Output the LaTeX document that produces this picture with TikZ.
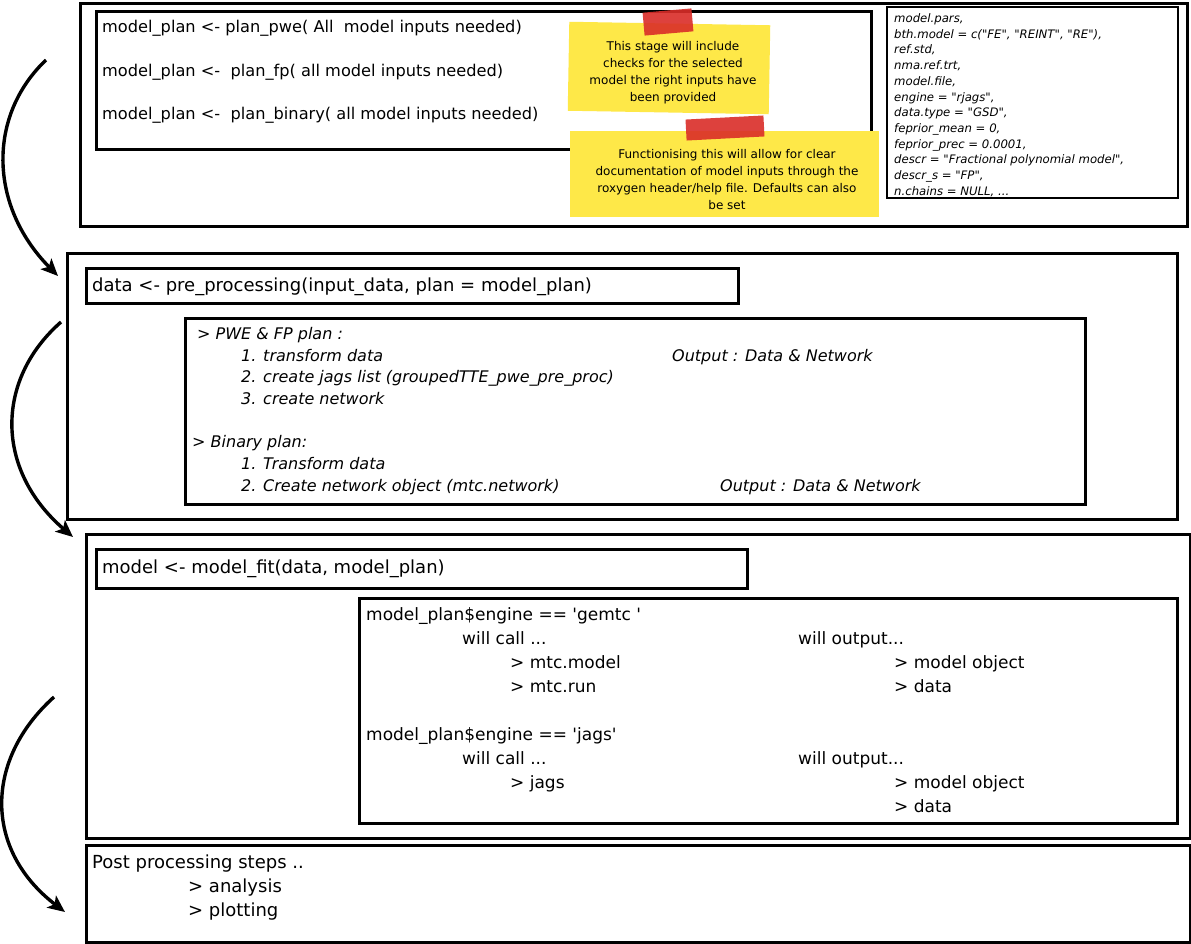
\documentclass[tikz,border=0pt]{standalone}
\usepackage{fontspec}
\setmainfont{DejaVu Sans}[Ligatures=TeXOff]
\usepackage{xcolor}
\usepackage{tikz}
\usetikzlibrary{positioning, arrows.meta}
\definecolor{noteyellow}{RGB}{254, 232, 72}
\definecolor{tapered}{RGB}{218, 45, 40}

\begin{document}
\begin{tikzpicture}[x=1pt, y=-1pt,
        stagebox/.style={draw=black, line width=3pt, fill=white, anchor=north west, inner sep=0pt},
        innerbox/.style={draw=black, line width=2.6pt, fill=white, anchor=north west, inner sep=0pt},
        codeline/.style={anchor=west, inner sep=0pt, yshift=-4.5pt, text height=.7em, text depth=.2em, font=\fontsize{18}{21}\selectfont},
        planline/.style={codeline, font=\fontsize{16.2}{19}\selectfont},
        stepline/.style={codeline, font=\fontsize{16}{19}\selectfont\itshape},
        engineline/.style={codeline, font=\fontsize{17}{20}\selectfont},
        parline/.style={codeline, yshift=1.5pt, font=\fontsize{11.7}{14}\selectfont\itshape},
        sticky/.style={fill=noteyellow, inner sep=0pt},
        notetext/.style={inner sep=0pt, align=center, font=\fontsize{12}{17}\selectfont},
        tape/.style={fill=tapered, opacity=.9, inner sep=0pt},
        flow/.style={-{Stealth[length=17pt, width=15pt, inset=4pt]}, line width=3.4pt}]

    \useasboundingbox (0,0) rectangle (1191,943);

    % stage 1 : model plan
    \node[stagebox, minimum width=1107pt, minimum height=223pt] (stageplan) at (79,2) {};
    \node[innerbox, minimum width=775pt, minimum height=138pt] (planbox) at (95,10) {};
    \node[planline] (planpwe) at (102,25) {model\_plan <- plan\_pwe( All\ \ model inputs needed)};
    \node[planline] (planfp) at (102,69) {model\_plan <-\ \ plan\_fp( all model inputs needed)};
    \node[planline] (planbin) at (102,112) {model\_plan <-\ \ plan\_binary( all model inputs needed)};

    \node[innerbox, line width=2.4pt, minimum width=291pt, minimum height=191pt] (parbox) at (886,6) {};
    \node[parline] (par1) at (894,17) {model.pars,};
    \node[parline] (par2) at (894,32.7) {bth.model = c("FE", "REINT", "RE"),};
    \node[parline] (par3) at (894,48.4) {ref.std,};
    \node[parline] (par4) at (894,64.1) {nma.ref.trt,};
    \node[parline] (par5) at (894,79.8) {model.file,};
    \node[parline] (par6) at (894,95.5) {engine = "rjags",};
    \node[parline] (par7) at (894,111.2) {data.type = "GSD",};
    \node[parline] (par8) at (894,126.9) {feprior\_mean = 0,};
    \node[parline] (par9) at (894,142.6) {feprior\_prec = 0.0001,};
    \node[parline] (par10) at (894,158.3) {descr = "Fractional polynomial model",};
    \node[parline] (par11) at (894,174) {descr\_s = "FP",};
    \node[parline] (par12) at (894,189.7) {n.chains = NULL, ...};

    \node[sticky, minimum width=201pt, minimum height=89pt, rotate=-1] (checknote) at (669,68) {};
    \node[notetext] (checktext) at (673,73) {This stage will include\\ checks for the selected\\ model the right inputs have\\ been provided};
    \node[tape, minimum width=49pt, minimum height=23pt, rotate=5] (checktape) at (668,22) {};
    \node[sticky, minimum width=309pt, minimum height=86pt] (docnote) at (724,174) {};
    \node[notetext] (doctext) at (727,179.5) {Functionising this will allow for clear\\ documentation of model inputs through the\\ roxygen header/help file. Defaults can also\\ be set};
    \node[tape, minimum width=78pt, minimum height=21pt, rotate=3] (doctape) at (725,128) {};

    % stage 2 : pre processing
    \node[stagebox, minimum width=1110pt, minimum height=266pt] (stageprep) at (66,252) {};
    \node[innerbox, minimum width=652pt, minimum height=35pt] (prepcall) at (85,267) {};
    \node[codeline] (prepcode) at (92,284) {data <- pre\_processing(input\_data, plan = model\_plan)};
    \node[innerbox, minimum width=900pt, minimum height=186pt] (prepbox) at (184,317) {};
    \node[stepline] (pwehead) at (197,332) {> PWE \& FP plan :};
    \node[stepline] (pwestep1) at (241,354) {1. transform data};
    \node[stepline] (pwestep2) at (241,375) {2. create jags list (groupedTTE\_pwe\_pre\_proc)};
    \node[stepline] (pwestep3) at (241,397) {3. create network};
    \node[stepline] (pweout) at (672,354) {Output : Data \& Network};
    \node[stepline] (binhead) at (192,440) {> Binary plan:};
    \node[stepline] (binstep1) at (241,462) {1. Transform data};
    \node[stepline] (binstep2) at (241,484) {2. Create network object (mtc.network)};
    \node[stepline] (binout) at (720,484) {Output : Data \& Network};

    % stage 3 : model fit
    \node[stagebox, minimum width=1104pt, minimum height=304pt] (stagefit) at (85,533) {};
    \node[innerbox, minimum width=651pt, minimum height=39pt] (fitcall) at (95,548) {};
    \node[codeline] (fitcode) at (102,566) {model <- model\_fit(data, model\_plan)};
    \node[innerbox, minimum width=818pt, minimum height=225pt] (enginebox) at (358,597) {};
    \node[engineline] (gemtchead) at (366,613) {model\_plan\$engine == 'gemtc '};
    \node[engineline] (gemtccall) at (462,637) {will call ...};
    \node[engineline] (gemtcmodel) at (510,661) {> mtc.model};
    \node[engineline] (gemtcrun) at (510,685) {> mtc.run};
    \node[engineline] (gemtcout) at (798,637) {will output...};
    \node[engineline] (gemtcobj) at (894,661) {> model object};
    \node[engineline] (gemtcdata) at (894,685) {> data};
    \node[engineline] (jagshead) at (366,733) {model\_plan\$engine == 'jags'};
    \node[engineline] (jagscall) at (462,757) {will call ...};
    \node[engineline] (jagsrun) at (510,781) {> jags};
    \node[engineline] (jagsout) at (798,757) {will output...};
    \node[engineline] (jagsobj) at (894,781) {> model object};
    \node[engineline] (jagsdata) at (894,805) {> data};

    % stage 4 : post processing
    \node[stagebox, minimum width=1104pt, minimum height=97pt] (stagepost) at (85,844) {};
    \node[codeline] (posthead) at (92,861) {Post processing steps ..};
    \node[codeline] (postana) at (188,885) {> analysis};
    \node[codeline] (postplot) at (188,909) {> plotting};

    % arrows between stages
    \coordinate (planout) at (46,60);
    \coordinate (prepin) at (58,276);
    \coordinate (prepout) at (61,322);
    \coordinate (fitin) at (73,537);
    \coordinate (fitout) at (54,697);
    \coordinate (postin) at (65,912);
    \draw[flow] (planout) .. controls (-12,115) and (-12,205) .. (prepin);
    \draw[flow] (prepout) .. controls (-5,380) and (-5,470) .. (fitin);
    \draw[flow] (fitout) .. controls (-16,760) and (-16,850) .. (postin);
\end{tikzpicture}
\end{document}
